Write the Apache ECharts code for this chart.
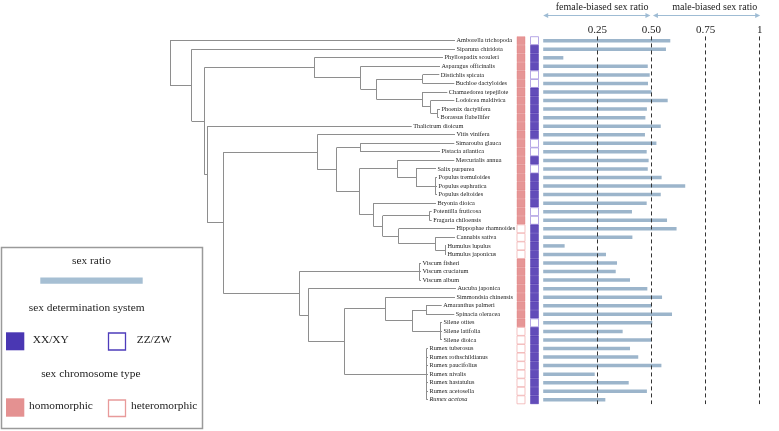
<!DOCTYPE html>
<html><head><meta charset="utf-8">
<script src="https://cdn.jsdelivr.net/npm/echarts@6/dist/echarts.min.js"></script>
<style>html,body{margin:0;padding:0;background:#fff}#c{width:779px;height:431px}</style>
</head><body><div id="c"></div><script>
const species = ['Amborella trichopoda','Siparuna chiridota','Phyllospadix scouleri','Asparagus officinalis','Distichlis spicata','Buchloe dactyloides','Chamaedorea tepejilote','Lodoicea maldivica','Phoenix dactylifera','Borassus flabellifer','Thalictrum dioicum','Vitis vinifera','Simarouba glauca','Pistacia atlantica','Mercurialis annua','Salix purpurea','Populus tremuloides','Populus euphratica','Populus deltoides','Bryonia dioica','Potentilla fruticosa','Fragaria chiloensis','Hippophae rhamnoides','Cannabis sativa','Humulus lupulus','Humulus japonicus','Viscum fisheri','Viscum cruciatum','Viscum album','Aucuba japonica','Simmondsia chinensis','Amaranthus palmeri','Spinacia oleracea','Silene otites','Silene latifolia','Silene dioica','Rumex tuberosus','Rumex rothschildianus','Rumex paucifolius','Rumex nivalis','Rumex hastatulus','Rumex acetosella','Rumex acetosa'];
const sexRatio = [0.587,0.567,0.093,0.483,0.492,0.484,0.501,0.575,0.479,0.472,0.543,0.470,0.523,0.478,0.487,0.483,0.547,0.656,0.543,0.478,0.410,0.572,0.616,0.412,0.099,0.290,0.341,0.335,0.401,0.481,0.549,0.501,0.595,0.504,0.367,0.501,0.401,0.439,0.546,0.238,0.395,0.479,0.287];
// sex chromosome type: 1 = homomorphic, 0 = heteromorphic
const homomorphic = [1,1,1,1,1,1,1,1,1,1,1,1,1,1,1,1,1,1,1,1,1,1,0,0,0,0,1,1,1,1,1,1,1,1,0,0,0,0,0,0,0,0,0];
// sex determination system: 1 = XX/XY, 0 = ZZ/ZW
const xySystem = [0,1,1,1,0,0,1,1,1,1,1,1,0,0,1,0,1,1,1,1,0,0,1,1,1,1,1,1,1,1,1,1,1,0,1,1,1,1,1,1,1,1,1];
// depth of each tip on the tree's horizontal scale
const tipDepth = [285,285,273,270,269.3,284.3,277.3,284.3,270,269,241.7,285,284.3,270,284.3,266,267,267,267,266,261.7,261.7,285,285,276,276,251,251,251,286,285,271.7,284.3,272,272,272,258,258,258,258,258,258,258];
// internal nodes: [depth, children (tip index or node name)]
const treeNodes = {
 root:[0,[0,'n1']], n1:[21.7,[1,'n2']], n2:[34.3,['n3','n10']],
 n3:[144.3,[2,'n4']], n4:[190.7,[3,'n5']], n5:[206.7,['n6','n7']], n6:[252.7,[4,5]],
 n7:[252.7,[6,'n8']], n8:[260.7,[7,'n9']], n9:[267.7,[8,9]],
 n10:[37.3,[10,'n11']], n11:[53.3,['n12','n25']], n12:[147.3,[11,'n13']],
 n13:[166.7,['n14','n15']], n14:[190.3,[12,13]], n15:[189.3,['n16','n19']],
 n16:[227.3,[14,'n17']], n17:[246,[15,'n18']], n18:[265.3,[16,17,18]],
 n19:[203.3,[19,'n20']], n20:[212.7,['n21','n22']], n21:[259.3,[20,21]],
 n22:[228.7,[22,'n23']], n23:[265.3,[23,'n24']], n24:[275,[24,25]],
 n25:[129.3,['n26','n27']], n26:[249.3,[26,27,28]], n27:[138.3,[29,'n28']],
 n28:[174.3,['n29','n33']], n29:[215.7,[30,'n30']], n30:[242.3,['n31','n32']],
 n31:[256,[31,32]], n32:[270,[33,34,35]], n33:[256.7,[36,37,38,39,40,41,42]]
};
const tickValues = [0.25,0.5,0.75,1];
const tickLabels = ['0.25','0.50','0.75','1'];

// --- layout of the tree (row units / depth units)
const segs = [];
function nodeY(c){ return typeof c === 'number' ? c : layout(c); }
function nodeD(c){ return typeof c === 'number' ? tipDepth[c] : treeNodes[c][0]; }
function layout(name){
  const [d, ch] = treeNodes[name];
  const ys = ch.map(nodeY);
  ch.forEach((c,i)=>segs.push([d, ys[i], nodeD(c), ys[i]]));
  segs.push([d, ys[0], d, ys[ys.length-1]]);
  return (ys[0] + ys[ys.length-1]) / 2;
}
layout('root');

const FONT = "'Liberation Serif','Times New Roman',serif";
const TOP = 36.425, H = 367.65;
const rows = species.map((s,i)=>i);
const sq = [];
rows.forEach(i=>{
  sq.push({value:[0,i], itemStyle: homomorphic[i] ? {color:'#e07c7c',borderColor:'#e07c7c',borderWidth:0.5} : {color:'#fff',borderColor:'#f1b3b3',borderWidth:1}});
  sq.push({value:[1,i], itemStyle: xySystem[i] ? {color:'#3b1fa7',borderColor:'#3b1fa7',borderWidth:0.5} : {color:'#fff',borderColor:'#a593e0',borderWidth:1}});
});

const chart = echarts.init(document.getElementById('c'), null, {renderer:'canvas'});
const option = {
  animation:false,
  grid:[
    {left:170, top:TOP, width:286, height:H},
    {left:514.25, top:TOP, width:27, height:H},
    {left:543.2, top:TOP, width:216.5, height:H}
  ],
  xAxis:[
    {gridIndex:0, type:'value', min:0, max:286, show:false},
    {gridIndex:1, type:'value', min:-0.5, max:1.5, show:false},
    {gridIndex:2, type:'value', min:0, max:1, interval:0.25, position:'top',
     axisLine:{show:false}, axisTick:{show:false}, splitLine:{show:false},
     axisLabel:{margin:1, fontSize:11, fontFamily:FONT, color:'#222',
       formatter:v=>{const k=tickValues.findIndex(t=>Math.abs(t-v)<1e-9); return k<0?'':tickLabels[k];}}}
  ],
  yAxis:[
    {gridIndex:0, type:'value', min:-0.5, max:42.5, inverse:true, show:false},
    {gridIndex:1, type:'value', min:-0.5, max:42.5, inverse:true, show:false},
    {gridIndex:2, type:'category', data:species, inverse:true, show:false}
  ],
  series:[
    {type:'custom', xAxisIndex:0, yAxisIndex:0, data:segs, silent:true,
     encode:{x:[0,2], y:[1,3]},
     renderItem:(p,api)=>{
       const a = api.coord([api.value(0), api.value(1)]);
       const b = api.coord([api.value(2), api.value(3)]);
       let x1=a[0], y1=a[1], x2=b[0], y2=b[1];
       if (y1===y2){ y1=y2=Math.round(y1-0.5)+0.5; } else { x1=x2=Math.round(x1-0.5)+0.5; }
       return {type:'line', shape:{x1,y1,x2,y2}, style:{stroke:'#8e8e8e', lineWidth:1}};
     }},
    {type:'custom', xAxisIndex:0, yAxisIndex:0, silent:true,
     data: rows.map(i=>[tipDepth[i], i]),
     encode:{x:0, y:1},
     renderItem:(p,api)=>{
       const a = api.coord([api.value(0), api.value(1)]);
       const i = p.dataIndex;
       return {type:'text', x:a[0]+1.5, y:a[1], style:{text:species[i], fill:'#222',
         font:(i===42?'italic ':'')+'6.3px '+FONT, align:'left', verticalAlign:'middle'}};
     }},
    {type:'scatter', xAxisIndex:1, yAxisIndex:1, symbol:'rect', symbolSize:[8,8], data:sq, silent:true},
    {type:'bar', xAxisIndex:2, yAxisIndex:2, data:sexRatio, barWidth:3.5, silent:true,
     itemStyle:{color:'#9cb5cb'},
     markLine:{symbol:'none', silent:true, label:{show:false},
       lineStyle:{type:[4,3], color:'#333', width:1},
       data: tickValues.map(v=>({xAxis:v}))}}
  ],
  graphic:[
    {type:'rect', shape:{x:1.5,y:247.5,width:201,height:181}, style:{fill:'none', stroke:'#9a9a9a', lineWidth:1.5}},
    {type:'text', x:91.5, y:261, style:{text:'sex ratio', font:'11.4px '+FONT, fill:'#222', align:'center', verticalAlign:'middle'}},
    {type:'rect', shape:{x:40.3,y:277.5,width:102.4,height:6.3}, style:{fill:'#a6bfd3'}},
    {type:'text', x:86.7, y:308, style:{text:'sex determination system', font:'11.4px '+FONT, fill:'#222', align:'center', verticalAlign:'middle'}},
    {type:'rect', shape:{x:6,y:332.3,width:18.3,height:18}, style:{fill:'#4a37b3'}},
    {type:'text', x:32.7, y:340.5, style:{text:'XX/XY', font:'11.4px '+FONT, fill:'#222', align:'left', verticalAlign:'middle'}},
    {type:'rect', shape:{x:108.5,y:333,width:17,height:17}, style:{fill:'#fff', stroke:'#4e3cbb', lineWidth:1.3}},
    {type:'text', x:136.7, y:340.5, style:{text:'ZZ/ZW', font:'11.4px '+FONT, fill:'#222', align:'left', verticalAlign:'middle'}},
    {type:'text', x:90.8, y:374.5, style:{text:'sex chromosome type', font:'11.4px '+FONT, fill:'#222', align:'center', verticalAlign:'middle'}},
    {type:'rect', shape:{x:6,y:398.3,width:18.3,height:18.4}, style:{fill:'#e49191'}},
    {type:'text', x:29, y:406, style:{text:'homomorphic', font:'11.4px '+FONT, fill:'#222', align:'left', verticalAlign:'middle'}},
    {type:'rect', shape:{x:108.5,y:400,width:17,height:16.5}, style:{fill:'#fff', stroke:'#e89a9a', lineWidth:1.3}},
    {type:'text', x:131, y:406.5, style:{text:'heteromorphic', font:'11.4px '+FONT, fill:'#222', align:'left', verticalAlign:'middle'}}
  ]
};
chart.setOption(option);

// header arrows placed through the bar axis scale
const px = v => chart.convertToPixel({xAxisIndex:2}, v);
function arrow(x1, x2, y, col){
  const h = 5, w = 2.6;
  return [
    {type:'line', shape:{x1:x1+2, y1:y, x2:x2-2, y2:y}, style:{stroke:col, lineWidth:1.2}},
    {type:'polygon', shape:{points:[[x1,y],[x1+h,y-w],[x1+h,y+w]]}, style:{fill:col}},
    {type:'polygon', shape:{points:[[x2,y],[x2-h,y-w],[x2-h,y+w]]}, style:{fill:col}}
  ];
}
const AY = 15.5, AC = '#9fbcd4';
const extra = [].concat(
  arrow(px(0), px(0.5)-1, AY, AC),
  arrow(px(0.5)+1.5, px(1)+0.5, AY, AC),
  [{type:'text', x:px(0.5)-3, y:7, style:{text:'female-biased sex ratio', font:'10px '+FONT, fill:'#222', align:'right', verticalAlign:'middle'}},
   {type:'text', x:px(1)-2.5, y:7, style:{text:'male-biased sex ratio', font:'10px '+FONT, fill:'#222', align:'right', verticalAlign:'middle'}}]
);
chart.setOption({graphic: option.graphic.concat(extra)});
</script></body></html>
